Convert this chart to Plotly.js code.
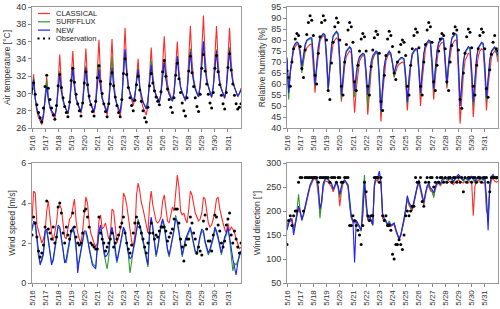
<!DOCTYPE html>
<html><head><meta charset="utf-8">
<script src="https://cdn.plot.ly/plotly-3.0.1.min.js"></script>
<style>html,body{margin:0;padding:0;background:#fff}#chart{width:500px;height:309px}</style>
</head><body><div id="chart"></div>
<script>
// ---- time axis (3-hourly samples, 16-31 May, plus end point) ----
const sampleHours = [0, 3, 6, 9, 12, 15, 18, 21];
const sampleDays = [16,17,18,19,20,21,22,23,24,25,26,27,28,29,30,31];
const times = [];
sampleDays.forEach(d => sampleHours.forEach(h => times.push('2016-05-' + d + ' ' + String(h).padStart(2,'0') + ':00')));
times.push('2016-06-01 00:00');

const tickDates = ['2016-05-16','2016-05-17','2016-05-18','2016-05-19','2016-05-20','2016-05-21','2016-05-22','2016-05-23','2016-05-24','2016-05-25','2016-05-26','2016-05-27','2016-05-28','2016-05-29','2016-05-30','2016-05-31'];
const tickLabels = ['5/16','5/17','5/18','5/19','5/20','5/21','5/22','5/23','5/24','5/25','5/26','5/27','5/28','5/29','5/30','5/31'];
const seriesNames = ['CLASSICAL','SURFFLUX','NEW','Observation'];

// ---- Air temperature [°C] ----
const tempClassical = [
30.2,32.2,29.3,27.9,27.2,26.7,26.4,27.2, 29.4,31.9,29.5,28.3,27.8,27.4,27.1,28.2,
31.2,34.5,31.1,29.3,28.6,28.0,27.6,28.7, 31.6,34.9,31.3,29.5,28.7,28.1,27.7,28.8,
31.8,35.2,31.5,29.6,28.7,28.1,27.7,29.0, 32.4,36.2,31.9,29.7,28.7,28.0,27.5,28.8,
32.3,36.3,31.8,29.6,28.6,27.8,27.3,28.8, 33.0,37.6,33.1,30.9,29.9,29.1,28.6,29.4,
31.6,34.0,30.8,29.1,28.4,27.9,27.5,28.7, 31.8,35.3,32.1,30.5,29.8,29.3,28.9,30.1,
33.1,36.6,32.9,31.1,30.2,29.6,29.2,30.2, 33.0,36.0,32.6,30.8,30.1,29.5,29.1,30.4,
33.9,37.8,33.7,31.7,30.7,30.1,29.6,31.0, 34.8,39.0,34.3,31.9,30.8,30.1,29.5,30.7,
34.1,37.8,33.6,31.5,30.6,29.9,29.4,30.6, 33.9,37.6,33.6,31.6,30.7,30.1,29.6,30.0, 30.6];
const tempSurfflux = [
30.0,31.8,29.5,28.2,27.6,27.1,26.7,27.6, 29.4,31.5,29.6,28.5,28.0,27.7,27.4,28.4,
30.4,32.6,30.3,29.1,28.5,28.1,27.7,28.8, 31.0,33.1,30.8,29.4,28.8,28.3,27.9,28.9,
31.0,33.2,30.8,29.4,28.8,28.3,27.9,28.9, 30.9,33.4,30.8,29.4,28.8,28.3,27.9,29.0,
31.4,34.3,31.2,29.6,28.8,28.2,27.8,29.3, 32.2,35.0,32.4,30.8,30.1,29.5,29.0,29.8,
31.4,33.0,30.8,29.6,29.0,28.6,28.2,29.3, 31.6,33.8,31.6,30.3,29.8,29.3,29.0,30.0,
31.9,34.0,31.8,30.5,29.9,29.5,29.1,30.1, 32.2,34.3,32.0,30.7,30.1,29.6,29.2,30.3,
32.7,35.2,32.7,31.2,30.5,30.0,29.6,30.9, 33.4,36.0,33.1,31.5,30.8,30.1,29.6,30.7,
32.9,35.1,32.6,31.1,30.5,29.9,29.5,30.6, 32.9,35.3,32.7,31.3,30.7,30.1,29.7,30.0, 30.4];
const tempNew = [
29.8,31.6,29.4,28.2,27.6,27.1,26.7,27.5, 29.2,30.8,29.3,28.4,28.0,27.7,27.4,28.4,
30.3,32.3,30.2,29.1,28.5,28.1,27.7,28.8, 30.9,33.0,30.7,29.4,28.8,28.3,27.9,28.9,
30.9,33.0,30.7,29.4,28.8,28.3,27.9,28.9, 30.8,32.8,30.6,29.4,28.8,28.3,27.9,28.9,
30.9,33.0,30.7,29.4,28.7,28.2,27.8,29.3, 32.2,35.1,32.4,30.8,30.1,29.5,29.0,29.8,
31.3,32.8,30.7,29.6,29.0,28.6,28.2,29.2, 31.3,33.3,31.4,30.3,29.8,29.3,29.0,30.0,
31.9,33.8,31.7,30.5,29.9,29.5,29.1,30.1, 32.2,34.3,32.0,30.7,30.1,29.6,29.2,30.3,
32.6,34.8,32.5,31.2,30.5,30.0,29.6,30.9, 33.4,36.0,33.1,31.5,30.8,30.1,29.6,30.7,
32.8,34.9,32.5,31.1,30.5,29.9,29.5,30.6, 32.8,35.0,32.6,31.3,30.7,30.1,29.7,30.0, 30.4];
const tempObs = [
30.5,31.2,29.9,28.7,27.8,27.2,26.7,28.3, 30.8,32.1,30.6,29.3,28.3,27.5,27.0,28.6,
30.9,32.2,30.7,29.5,28.5,27.8,27.3,29.0, 31.5,32.9,31.3,29.9,28.8,28.0,27.4,28.9,
31.2,32.5,31.0,29.7,28.7,27.9,27.4,29.1, 31.8,33.2,31.4,30.0,28.8,27.9,27.3,28.8,
31.1,32.4,30.9,29.6,28.6,27.8,27.3,29.3, 32.3,34.0,32.2,30.7,29.5,28.6,28.0,29.2,
31.0,32.0,30.4,29.1,28.0,27.2,26.7,28.4, 30.9,32.3,31.2,30.3,29.6,29.1,28.7,30.2,
32.5,33.8,32.0,30.5,29.3,28.4,27.8,29.5, 32.1,33.5,31.7,30.1,28.9,28.0,27.4,29.5,
32.6,34.3,32.4,30.8,29.5,28.5,27.9,29.9, 32.9,34.5,32.6,31.1,29.9,28.9,28.3,30.1,
32.9,34.4,32.5,31.0,29.8,28.8,28.2,30.1, 33.0,34.6,32.7,31.1,29.8,28.8,28.2,28.4, 28.8];

// ---- Relative humidity [%] ----
const rhClassical = [
71,56,65,71.5,75.5,77,78,77.5, 73,66,71,74.5,76.5,77.5,78,78,
69,56,66.5,74,79.5,81,82,81.5, 71.5,57,66.5,74,78.5,80,81,80,
69,52,61,68,72.5,74,75,74, 63,47,57.5,65,70.5,72,73,72.5,
62,46,57,65.5,71,73,74,73.5, 61,43,55.5,64.5,70.5,72.5,74,73,
69,63,66,68,69,69.5,70,69.5, 61,48,59,67.5,73,75,76,75.5,
65,50,61.5,70.5,76,78,79,78.5, 68,53,63.5,71,76.5,78,79,78.5,
70,58,67,73.5,77.5,79,80,79.5, 64.5,42,55,64.5,70.5,72.5,74,73.5,
62,45,57.5,66.5,72.5,75,76,75.5, 64.5,48,59,67,72,74,75,74, 70];
const rhSurfflux = [
71,53,65,72,76.5,78,79,78, 74,65,72,77,79.5,80,80.5,80.5,
72,59,69.5,76.5,80.5,81.5,82.5,82, 72,57,69,77,81.5,82.5,83.5,82.5,
71,53,64,71,74.5,75.5,76.5,75.5, 67,54,63.5,69.5,72,73,73.5,73,
64.5,50,61.5,68.5,72,73.5,74.5,74, 63,47,59.5,68,72,73.5,74.5,73.5,
69.5,63,67.5,69.5,71,71.5,71.5,71, 63,51,62,69.5,73.5,74.5,75.5,75.5,
67,55,66,73.5,77.5,78.5,79.5,79, 70,57,67.5,75,78.5,79.5,80.5,80,
71.5,59,69.5,77,80.5,81.5,82.5,82, 69,50,61.5,69.5,74,75.5,76.5,76,
65.5,50,63,71.5,76,77.5,78.5,78, 68,52,63.5,70.5,74.5,75.5,76.5,74.5, 72];
const rhNew = [
72,56,66,73,77,78.5,79,78.5, 75,68,74,78,80,80.5,81,81,
73,60,70,77,81,82,83,82.5, 73,58,70,77.5,82,83,84,83,
72,55,65,71.5,75,76,77,76, 68,57,65,70,72.5,73.5,74,73.5,
66,55,64,70,73,74,75,74.5, 64,48,60,68,72.5,74,75,74,
70,65,68,70,71,72,72,71.5, 64,52,63,70,74,75,76,76,
68,56,67,74,78,79,80,79.5, 71,58,68,75,79,80,81,80.5,
72,60,70,77,81,82,83,82.5, 69.5,50,62,70,74.5,76,77,76.5,
67,52,64,72,76.5,78,79,78.5, 69,54,64,71,75,76,77,75, 73];
const rhObs = [
66,63,59,70,76,80.5,83,82, 77,67,63,75.5,82.5,88,91,89,
82,64,60,74,81.5,88,91,89, 80,57,53,69.5,79,86,90,88,
80,59,55,70,78,84.5,88,86, 79,61,57,68.5,75,80.5,83,81.5,
75,59,55,68,75.5,81,84,82.5, 74,52,48,64,73,80.5,84,82,
77,65,62,70,74.5,78,80,79, 73,59,55,68.5,76,82,85,83.5,
76.5,59,55,70,78,84.5,88,86, 79,61,57,68.5,75,80.5,83,82,
76,61,57,70,77.5,83,86,84.5, 75.5,53,49,65,74,81.5,85,83.5,
76.5,59,55,68.5,76,82,85,83.5, 76,58,54,66.5,73.5,79,82,76, 75];

// ---- Wind speed [m/s] ----
const wsClassical = [
3.1,4.6,4.5,2.9,2.6,2.3,2.0,2.2, 2.5,3.6,4.1,3.3,2.5,2.1,2.6,3.0,
3.8,3.9,3.7,2.8,2.3,2.2,2.7,3.2, 3.3,3.7,4.2,3.1,2.5,2.2,2.0,2.6,
3.3,4.3,4.0,3.0,2.5,2.2,2.0,1.8, 2.0,3.1,3.4,2.7,2.8,3.0,2.6,2.2,
2.4,3.7,3.6,2.8,2.0,2.3,2.7,3.0, 4.5,4.3,3.9,3.3,2.6,2.1,1.8,2.4,
4.4,5.0,4.6,4.0,3.7,3.3,2.8,2.5, 3.9,4.6,3.9,3.4,3.1,3.0,3.1,3.3,
4.1,4.4,3.6,3.1,3.0,3.4,3.8,3.6, 4.5,5.4,4.8,3.6,3.4,3.5,3.2,3.0,
3.7,4.6,4.4,3.9,3.5,3.3,3.1,3.2, 3.5,4.3,4.2,3.6,3.0,2.8,2.9,3.2,
3.6,4.2,4.3,3.7,3.3,3.0,2.7,2.5, 3.0,2.6,2.8,2.7,2.5,2.2,1.9,1.7, 1.8];
const wsSurfflux = [
2.6,3.0,2.9,2.1,1.3,1.0,1.1,1.4, 2.5,2.6,2.1,1.5,1.0,1.1,1.7,2.2,
2.8,2.7,2.2,1.6,1.1,1.0,1.6,2.0, 2.5,2.7,2.4,1.7,0.9,1.1,1.6,2.1,
2.5,2.5,2.2,1.8,1.4,1.0,0.9,0.8, 1.7,2.5,2.7,2.3,1.5,1.0,0.7,1.3,
2.3,2.7,2.3,1.5,1.0,1.4,1.9,2.4, 2.7,2.5,1.9,1.4,0.5,1.2,1.6,2.0,
2.7,3.2,2.8,2.4,2.0,1.6,1.2,0.8, 2.5,3.2,2.7,1.9,1.3,1.7,2.3,2.8,
3.1,2.8,2.2,1.6,1.3,1.7,2.2,2.6, 3.4,3.0,2.5,1.9,1.3,1.7,2.1,2.3,
2.5,2.7,2.3,1.8,1.5,1.4,1.9,2.3, 2.6,2.5,2.0,1.7,1.4,1.6,1.9,2.2,
2.7,2.5,2.2,1.8,1.4,1.8,2.2,2.4, 2.7,2.2,1.5,0.6,1.0,0.9,1.1,1.3, 1.6];
const wsNew = [
2.7,3.1,3.0,2.2,1.4,0.9,1.2,1.5, 2.6,2.7,2.2,1.4,0.9,1.2,1.8,2.3,
2.9,2.8,2.3,1.7,1.0,1.2,1.7,2.1, 2.6,2.8,2.5,1.9,0.5,1.2,1.7,2.2,
2.6,2.6,2.3,1.7,1.2,0.9,0.8,0.7, 1.8,2.6,2.9,2.4,1.6,1.3,1.4,1.6,
2.5,2.8,2.4,1.6,1.1,1.5,2.0,2.5, 2.8,2.6,2.0,1.5,1.2,1.3,1.7,2.1,
2.6,3.1,2.9,2.6,2.2,1.7,1.3,0.9, 2.6,3.3,2.8,2.1,1.4,1.8,2.4,2.9,
3.2,2.9,2.3,1.7,1.4,1.8,2.3,2.7, 3.2,3.1,2.6,2.0,1.4,1.8,2.2,2.4,
2.6,2.8,2.4,1.9,1.6,1.5,2.0,2.4, 2.7,2.6,2.1,1.8,1.5,1.7,2.0,2.3,
2.8,2.6,2.3,1.9,1.5,1.9,2.3,2.5, 2.8,2.3,1.6,1.2,0.8,0.4,1.0,1.4, 1.6];
const wsObs = [
2.4,3.3,3.0,2.3,1.6,1.3,1.5,1.9, 2.8,4.1,2.7,2.5,2.2,2.8,2.0,2.3,
3.8,4.0,3.5,2.5,2.0,2.8,2.4,2.2, 2.6,3.5,2.8,2.3,2.0,1.9,2.0,2.5,
3.6,3.7,3.3,2.8,2.0,1.9,1.8,1.7, 1.7,3.3,2.5,2.2,2.0,1.6,1.8,2.0,
2.2,2.5,1.8,2.0,2.2,2.4,2.8,3.0, 3.3,2.5,2.0,1.7,1.5,1.9,2.5,3.0,
3.3,3.0,2.8,2.5,2.2,1.8,1.5,2.0, 2.5,3.0,2.5,2.2,2.4,2.3,2.6,2.8,
2.8,2.8,2.6,2.1,2.3,2.5,2.7,3.2, 3.7,3.7,3.0,2.2,1.8,1.1,1.9,2.2,
2.2,3.3,3.0,2.5,2.2,1.5,1.8,1.6, 1.4,3.1,3.4,2.7,2.1,2.1,1.6,2.4,
3.4,3.3,2.9,2.6,2.0,1.8,2.1,2.9, 3.2,3.5,2.4,2.0,2.6,2.2,1.8,1.5, 2.0];

// ---- Wind direction [°] ----
const wdClassical = [
170,180,178,185,165,175,190,205, 195,185,190,205,220,235,250,258,
265,268,262,232,200,215,250,262, 262,260,255,250,240,250,258,250,
210,240,258,262,258,250,220,185, 178,175,178,170,165,160,190,250,
205,180,188,178,170,250,265,262, 272,258,185,180,178,168,172,168,
170,172,158,150,140,148,162,180, 200,225,212,205,200,215,232,248,
258,242,228,212,232,248,252,242, 240,232,245,255,258,252,258,262,
262,258,260,262,258,255,260,262, 265,262,260,258,262,260,258,262,
262,190,252,262,265,260,262,258, 262,200,190,245,265,268,262,260, 262];
const wdSurfflux = [
165,178,182,180,160,172,200,235, 200,182,192,208,228,240,252,260,
268,270,265,245,185,218,255,264, 268,264,260,256,245,252,260,250,
228,248,260,263,258,252,210,185, 178,178,180,172,165,158,230,275,
210,183,190,180,170,252,270,266, 275,260,190,183,178,170,180,172,
172,174,160,150,145,150,165,180, 202,228,215,208,203,218,236,250,
262,246,230,216,236,250,255,245, 242,228,248,258,260,254,262,265,
268,265,264,268,265,260,266,270, 272,270,266,262,268,266,262,266,
270,265,258,266,270,264,268,264, 268,215,185,250,270,272,268,266, 268];
const wdNew = [
160,175,185,180,150,170,190,210, 200,180,195,210,230,240,255,262,
270,272,268,250,205,220,258,266, 270,266,262,258,245,255,262,252,
235,252,262,265,260,255,225,190, 180,93,180,175,168,160,200,262,
215,185,190,182,172,255,272,268, 283,262,195,185,180,172,175,170,
172,175,162,152,142,150,165,185, 205,232,218,210,205,220,238,252,
265,248,232,218,238,252,258,248, 245,238,250,260,262,256,265,268,
270,268,265,270,268,262,268,272, 276,272,268,265,270,268,265,268,
272,268,262,268,272,266,270,266, 270,230,160,255,272,276,270,268, 270];
const wdObs = [
130,180,190,170,190,200,200,260, 270,270,200,270,270,270,270,270,
270,270,270,260,270,270,270,270, 270,270,260,270,270,270,260,270,
270,260,260,270,270,270,170,170, 190,180,170,160,150,130,170,260,
240,190,180,190,190,270,270,270, 260,270,190,180,190,170,170,160,
110,100,130,130,140,130,120,150, 190,200,190,200,210,210,270,260,
260,270,220,210,260,270,260,270, 270,250,260,270,260,270,270,260,
270,260,270,270,260,270,270,260, 270,260,270,240,270,260,270,270,
260,270,270,260,270,270,260,270, 270,270,260,240,270,270,270,270, 270];

// ---- styling ----
const colors = ['#ff2a2a', '#2f9a2f', '#1f1fff', '#000000'];
const panels = [
  {vals: [tempClassical, tempSurfflux, tempNew, tempObs], title: 'Air temperature [°C]', range: [26, 40], dtick: 2},
  {vals: [rhClassical, rhSurfflux, rhNew, rhObs], title: 'Relative humidity [%]', range: [40, 95], dtick: 5},
  {vals: [wsClassical, wsSurfflux, wsNew, wsObs], title: 'Wind speed [m/s]', range: [0, 6], dtick: 2},
  {vals: [wdClassical, wdSurfflux, wdNew, wdObs], title: 'Wind direction [°]', range: [50, 300], dtick: 50}
];
const W = 500, H = 309;
const xDomains = [[32/W, 241/W], [287/W, 498/W], [32/W, 241/W], [287/W, 498/W]];
const yDomains = [[1-128/H, 1-7/H], [1-128/H, 1-7/H], [1-283/H, 1-163/H], [1-283/H, 1-163/H]];

const traces = [];
const layout = {
  width: W, height: H, margin: {l: 0, r: 0, t: 0, b: 0},
  paper_bgcolor: '#fff', plot_bgcolor: '#fff', showlegend: false,
  font: {family: 'Liberation Sans, Arial, sans-serif', size: 8, color: '#333'},
  shapes: [], annotations: []
};
panels.forEach((p, i) => {
  const n = i === 0 ? '' : String(i + 1);
  p.vals.forEach((v, k) => {
    const isObs = k === 3;
    traces.push({
      x: times, y: v, xaxis: 'x' + n, yaxis: 'y' + n, name: seriesNames[k],
      type: 'scatter', mode: isObs ? 'markers' : 'lines',
      line: {color: colors[k], width: 1.1},
      marker: {color: '#000', size: 3},
      hoverinfo: 'skip'
    });
  });
  layout['xaxis' + n] = {
    domain: xDomains[i], anchor: 'y' + n, type: 'date',
    range: ['2016-05-16 00:00', '2016-06-01 00:00'],
    tickmode: 'array', tickvals: tickDates, ticktext: tickLabels,
    tickangle: -90, ticks: 'outside', ticklen: 3, tickcolor: '#888',
    tickfont: {size: 8, color: '#333'},
    showline: true, mirror: true, linecolor: '#999', linewidth: 1,
    showgrid: false, zeroline: false
  };
  layout['yaxis' + n] = {
    domain: yDomains[i], anchor: 'x' + n, range: p.range, dtick: p.dtick,
    ticks: 'outside', ticklen: 3, tickcolor: '#888',
    tickfont: {size: 9, color: '#333'},
    title: {text: p.title, font: {size: 8.5, color: '#333'}, standoff: 4},
    showline: true, mirror: true, linecolor: '#999', linewidth: 1,
    showgrid: false, zeroline: false
  };
});

// manual legend inside the first panel
const legY = [13.5, 21.8, 30.1, 38.4];
seriesNames.forEach((name, k) => {
  const yp = 1 - legY[k] / H;
  if (k < 3) {
    layout.shapes.push({type: 'line', xref: 'paper', yref: 'paper', x0: 38/W, x1: 50/W, y0: yp, y1: yp,
      line: {color: colors[k], width: 1.2}});
  } else {
    layout.shapes.push({type: 'line', xref: 'paper', yref: 'paper', x0: 37.5/W, x1: 50/W, y0: yp, y1: yp,
      line: {color: '#000', width: 2, dash: '2px,3.5px'}});
  }
  layout.annotations.push({xref: 'paper', yref: 'paper', x: 55/W, y: yp, xanchor: 'left', yanchor: 'middle',
    text: name, showarrow: false, borderpad: 0, font: {size: 7.5, color: '#222'}});
});

Plotly.newPlot('chart', traces, layout, {staticPlot: true, displayModeBar: false});
</script>
</body></html>
